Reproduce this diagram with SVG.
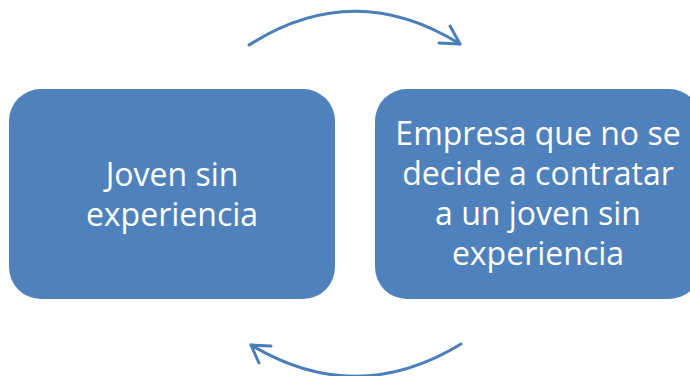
<svg xmlns="http://www.w3.org/2000/svg" width="690" height="376" viewBox="0 0 690 376">
<style>
.box{fill:#4F81BD;}
.lbl{fill:#FFFFFF;font-family:"Open Sans","Liberation Sans",sans-serif;font-size:32px;text-anchor:middle;}
.arc{fill:none;stroke:#4A7EBB;stroke-width:3;stroke-linecap:round;stroke-linejoin:round;}
</style>
<rect width="690" height="376" fill="#FFFFFF"/>
<g id="connectors">
<path class="arc" d="M249,45 Q354,-22 460,44"/>
<path class="arc" d="M450,26 L460,44 L439,43"/>
<path class="arc" d="M461,344 Q356,408 251,345"/>
<path class="arc" d="M271,346 L251,345 L259,363"/>
</g>
<g id="node-joven">
<rect class="box" x="9" y="89" width="326" height="210" rx="32" ry="32"/>
<text class="lbl" x="172" y="186">Joven sin</text>
<text class="lbl" x="172" y="226">experiencia</text>
</g>
<g id="node-empresa">
<rect class="box" x="375" y="89" width="326" height="210" rx="32" ry="32"/>
<text class="lbl" x="538" y="145">Empresa que no se</text>
<text class="lbl" x="538" y="185">decide a contratar</text>
<text class="lbl" x="538" y="225">a un joven sin</text>
<text class="lbl" x="538" y="265">experiencia</text>
</g>
</svg>
